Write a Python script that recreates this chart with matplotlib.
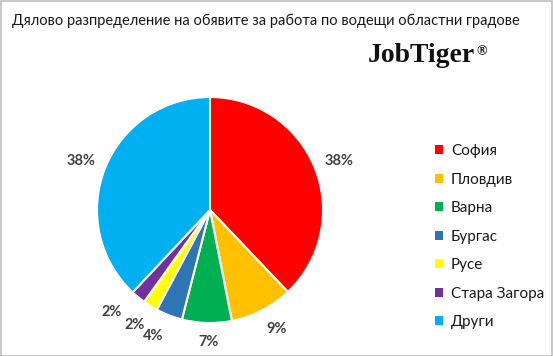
import matplotlib
matplotlib.use("Agg")
import matplotlib.pyplot as plt
import numpy as np
from matplotlib.patches import Rectangle

title = "Дялово разпределение на обявите за работа по водещи областни градове"
brand = "JobTiger"
brand_mark = "®"
cities = ["София", "Пловдив", "Варна", "Бургас", "Русе", "Стара Загора", "Други"]
shares = [37.9, 9.0, 7.1, 3.8, 2.1, 2.1, 38.0]
pct_labels = ["38%", "9%", "7%", "4%", "2%", "2%", "38%"]
colors = ["#FF0000", "#FFC000", "#00B050", "#2E75B6", "#FFFF00", "#7030A0", "#00B0F0"]

W, H = 553, 356
fig = plt.figure(figsize=(W / 100, H / 100), dpi=100)
fig.patch.set_facecolor("white")

fig.add_artist(Rectangle((0.5 / W, 0.5 / H), 1 - 1.5 / W, 1 - 1.5 / H, transform=fig.transFigure,
                         fill=False, edgecolor="#BFBFBF", linewidth=1.2))

fig.text(12 / W, 1 - 21 / H, title, fontsize=10.5, family="Lato", color="#1a1a1a",
         va="center", ha="left")
bt = fig.text(368 / W, 1 - 56 / H, brand, fontsize=20, family="Liberation Serif", fontweight="bold",
              color="#111111", va="center", ha="left")
fig.add_artist(plt.Annotation(brand_mark, xy=(1.0, 0.92), xycoords=bt, xytext=(1, 0),
                              textcoords="offset points", fontsize=10, family="Liberation Serif",
                              fontweight="bold", color="#111111", va="top", ha="left"))

cx, cy, r = 210, 210, 113
ax = fig.add_axes([(cx - r) / W, (H - cy - r) / H, 2 * r / W, 2 * r / H])
wedges, _ = ax.pie(shares, colors=colors, startangle=90, counterclock=False, radius=1,
                   wedgeprops=dict(edgecolor="white", linewidth=1.5))
ax.set_xlim(-1, 1)
ax.set_ylim(-1, 1)
ax.set_aspect("equal")
ax.axis("off")

shift = [1.0, -2.0, -1.0, 3.0, 1.5, 4.6, -1.0]
dist = [1.22, 1.21, 1.17, 1.22, 1.22, 1.25, 1.22]
for w, lab, s, d in zip(wedges, pct_labels, shift, dist):
    mid = np.deg2rad((w.theta1 + w.theta2) / 2 - s)
    ax.text(d * np.cos(mid), d * np.sin(mid), lab, ha="center", va="center",
            fontsize=10.5, fontweight="bold", family="Lato", color="#404040", clip_on=False)

leg = fig.legend(wedges, cities, loc="upper left", bbox_to_anchor=(435 / W, 1 - 144 / H),
                 frameon=False, prop=dict(family="Lato", size=11), handlelength=0.55,
                 handleheight=0.55, handletextpad=0.5, labelspacing=0.95, borderaxespad=0,
                 borderpad=0)
for t in leg.get_texts():
    t.set_color("#1a1a1a")
for h in leg.legend_handles:
    h.set_edgecolor("none")

fig.savefig("out.png", dpi=100, facecolor="white")
